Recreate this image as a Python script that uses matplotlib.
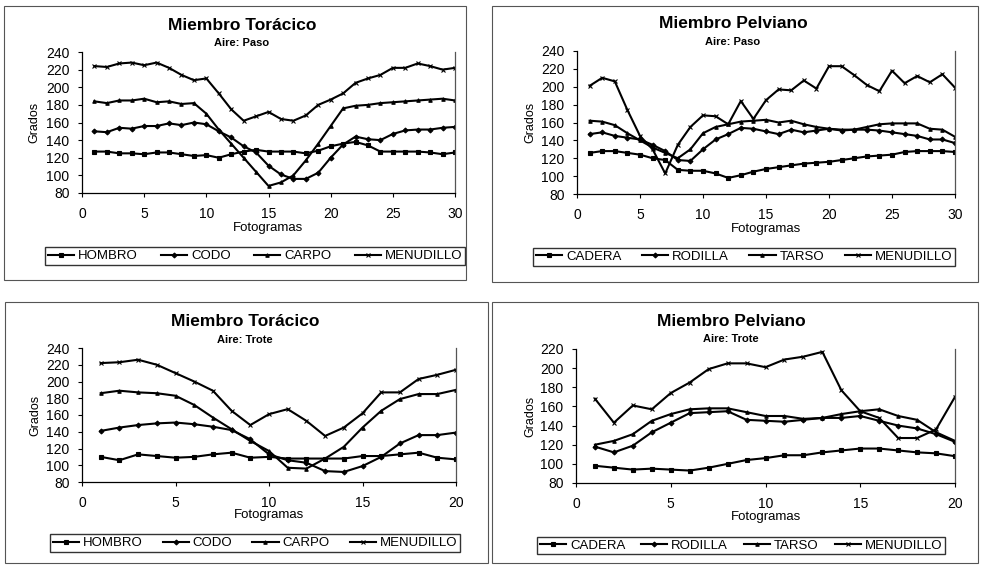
import matplotlib
matplotlib.use('Agg')
import matplotlib.pyplot as plt
from matplotlib.patches import Rectangle

plt.rcParams['font.family'] = ['Liberation Sans', 'DejaVu Sans']

# --- datos ---------------------------------------------------------------
frames_paso = list(range(1, 31))
frames_trote = list(range(1, 21))

toracico_labels = ['HOMBRO', 'CODO', 'CARPO', 'MENUDILLO']
pelviano_labels = ['CADERA', 'RODILLA', 'TARSO', 'MENUDILLO']

# Miembro Torácico - Paso
tor_paso_hombro = [127, 127, 125, 125, 124, 126, 126, 124, 122, 123, 120, 124, 127, 129, 127,
                   127, 127, 125, 128, 133, 136, 138, 134, 127, 127, 127, 127, 126, 124, 126]
tor_paso_codo = [150, 149, 154, 153, 156, 156, 159, 157, 160, 158, 150, 143, 133, 126, 111,
                 101, 96, 96, 103, 120, 135, 144, 141, 140, 147, 151, 152, 152, 154, 155]
tor_paso_carpo = [184, 182, 185, 185, 187, 183, 184, 181, 182, 170, 152, 136, 120, 104, 88,
                  92, 100, 117, 136, 156, 176, 179, 180, 182, 183, 184, 185, 186, 187, 185]
tor_paso_menudillo = [224, 223, 227, 228, 225, 228, 222, 214, 208, 210, 193, 175, 162, 167, 172,
                      164, 162, 168, 180, 186, 193, 205, 210, 214, 222, 222, 227, 224, 220, 222]

# Miembro Pelviano - Paso
pel_paso_cadera = [126, 128, 128, 126, 124, 120, 118, 107, 106, 106, 103, 98, 101, 105, 108,
                   110, 112, 114, 115, 116, 118, 120, 122, 123, 124, 127, 128, 128, 128, 127]
pel_paso_rodilla = [147, 149, 145, 143, 141, 135, 128, 118, 117, 130, 141, 147, 154, 153, 150,
                    147, 152, 149, 151, 153, 151, 152, 152, 151, 149, 147, 145, 141, 141, 137]
pel_paso_tarso = [162, 161, 157, 148, 140, 132, 126, 120, 130, 148, 155, 158, 161, 162, 163,
                  160, 162, 158, 155, 153, 152, 152, 155, 158, 159, 159, 159, 153, 152, 144]
pel_paso_menudillo = [201, 210, 206, 174, 145, 130, 103, 135, 155, 168, 167, 158, 184, 164, 185,
                      197, 196, 207, 198, 223, 223, 213, 202, 195, 218, 204, 212, 205, 214, 199]

# Miembro Torácico - Trote
tor_trote_hombro = [110, 106, 113, 111, 109, 110, 113, 115, 109, 110,
                    108, 108, 108, 108, 111, 111, 113, 115, 109, 107]
tor_trote_codo = [141, 145, 148, 150, 151, 149, 146, 142, 131, 113,
                  106, 103, 93, 92, 99, 110, 126, 136, 136, 139]
tor_trote_carpo = [186, 189, 187, 186, 183, 172, 157, 143, 129, 117,
                   97, 96, 108, 122, 145, 165, 179, 185, 185, 190]
tor_trote_menudillo = [222, 223, 226, 220, 210, 200, 189, 165, 148, 161,
                       167, 153, 135, 145, 162, 187, 187, 203, 208, 214]

# Miembro Pelviano - Trote
pel_trote_cadera = [98, 96, 94, 95, 94, 93, 96, 100, 104, 106,
                    109, 109, 112, 114, 116, 116, 114, 112, 111, 108]
pel_trote_rodilla = [118, 112, 119, 133, 143, 153, 154, 155, 146, 145,
                     144, 146, 148, 148, 150, 145, 140, 137, 131, 123]
pel_trote_tarso = [120, 124, 131, 145, 152, 157, 158, 158, 154, 150,
                   150, 147, 148, 152, 155, 157, 150, 146, 133, 124]
pel_trote_menudillo = [168, 143, 161, 157, 174, 185, 199, 205, 205, 201,
                       209, 212, 217, 177, 155, 148, 127, 127, 136, 170]

W, H = 981, 565
markers = ['s', 'D', '^', 'x']


def fx(px):
    return px / W


def fy(py):
    return 1 - py / H


fig = plt.figure(figsize=(W / 100, H / 100), dpi=100)

panels = [
    dict(title='Miembro Torácico', sub='Aire: Paso', box=(82, 52, 455, 193), x=frames_paso,
         series=[tor_paso_hombro, tor_paso_codo, tor_paso_carpo, tor_paso_menudillo],
         labels=toracico_labels, ymax=240, xmax=30, border=(4, 6, 466, 280),
         tx=242, ty=25, ylx=34, xly=228, leg=(45, 246, 465, 266)),
    dict(title='Miembro Pelviano', sub='Aire: Paso', box=(577, 51, 955, 194), x=frames_paso,
         series=[pel_paso_cadera, pel_paso_rodilla, pel_paso_tarso, pel_paso_menudillo],
         labels=pelviano_labels, ymax=240, xmax=30, border=(492, 6, 978, 282),
         tx=733, ty=24, ylx=530, xly=229, leg=(533, 247, 955, 267)),
    dict(title='Miembro Torácico', sub='Aire: Trote', box=(82, 348, 456, 482), x=frames_trote,
         series=[tor_trote_hombro, tor_trote_codo, tor_trote_carpo, tor_trote_menudillo],
         labels=toracico_labels, ymax=240, xmax=20, border=(5, 302, 488, 563),
         tx=245, ty=322, ylx=35, xly=515, leg=(50, 533, 460, 553)),
    dict(title='Miembro Pelviano', sub='Aire: Trote', box=(576, 349, 955, 483), x=frames_trote,
         series=[pel_trote_cadera, pel_trote_rodilla, pel_trote_tarso, pel_trote_menudillo],
         labels=pelviano_labels, ymax=220, xmax=20, border=(492, 302, 978, 563),
         tx=731, ty=321, ylx=530, xly=517, leg=(537, 535, 945, 556)),
]

for p in panels:
    x0, y0, x1, y1 = p['border']
    fig.patches.append(Rectangle((fx(x0), fy(y1)), fx(x1 - x0), (y1 - y0) / H,
                                 transform=fig.transFigure, fill=False,
                                 edgecolor='#555555', linewidth=0.8))

    l, t, r, b = p['box']
    ax = fig.add_axes([fx(l), fy(b), fx(r - l), (b - t) / H])
    for s, lab, m in zip(p['series'], p['labels'], markers):
        ax.plot(p['x'], s, color='black', linewidth=1.5, marker=m,
                markersize=2.5, markeredgewidth=0.8, label=lab)
    ax.set_xlim(0, p['xmax'])
    ax.set_ylim(80, p['ymax'])
    ax.set_yticks(range(80, p['ymax'] + 1, 20))
    ax.set_xticks(range(0, p['xmax'] + 1, 5))
    ax.tick_params(axis='both', labelsize=10, length=3, width=0.8, color='black')
    ax.tick_params(axis='x', pad=7)
    ax.tick_params(axis='y', pad=6)
    ax.spines['top'].set_visible(False)
    for side in ['left', 'bottom', 'right']:
        ax.spines[side].set_linewidth(0.9)
    ax.spines['right'].set_color('#555555')

    fig.text(fx(p['tx']), fy(p['ty']), p['title'], ha='center', va='center',
             fontsize=12.5, fontweight='bold')
    fig.text(fx(p['tx']), fy(p['ty'] + 18), p['sub'], ha='center', va='center',
             fontsize=8, fontweight='bold')
    fig.text(fx(p['ylx']), fy((t + b) / 2), 'Grados', ha='center', va='center',
             rotation=90, fontsize=9)
    fig.text(fx((l + r) / 2), fy(p['xly']), 'Fotogramas', ha='center', va='center',
             fontsize=9.5)

    lx0, ly0, lx1, ly1 = p['leg']
    leg = ax.legend(loc='center', ncol=4, mode='expand', fontsize=9.5,
                    bbox_to_anchor=(fx(lx0), fy(ly1), fx(lx1 - lx0), (ly1 - ly0) / H),
                    bbox_transform=fig.transFigure, frameon=True, fancybox=False,
                    handlelength=2.0, handletextpad=0.3, borderpad=0.2,
                    borderaxespad=0)
    leg.get_frame().set_edgecolor('black')
    leg.get_frame().set_linewidth(1.0)

fig.savefig('out.png', dpi=100)
